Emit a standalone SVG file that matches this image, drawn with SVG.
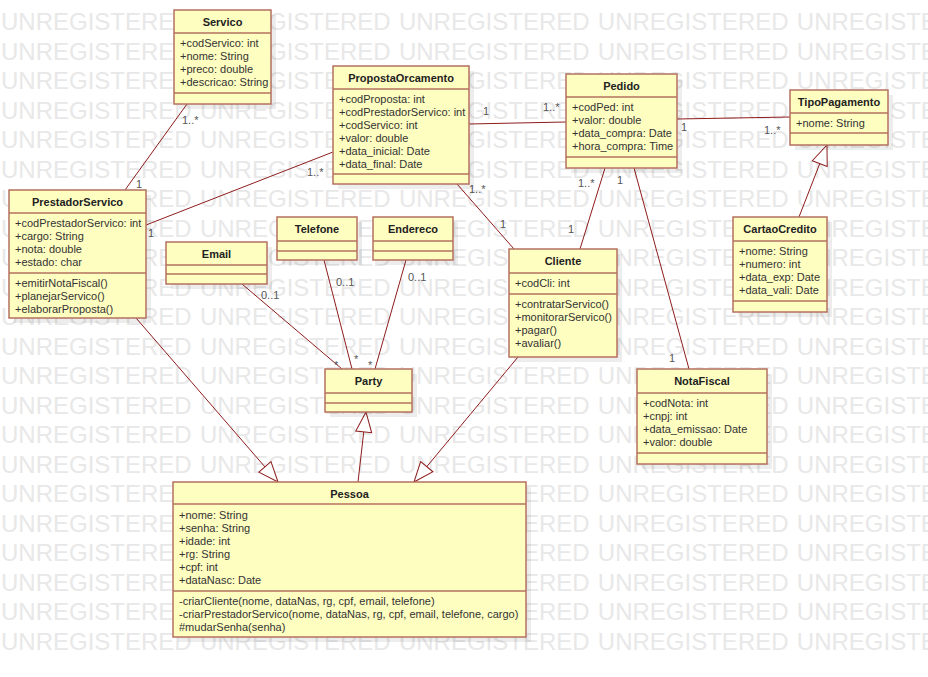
<svg xmlns="http://www.w3.org/2000/svg" width="928" height="677" viewBox="0 0 928 677">
<style>
.wm{font-family:"Liberation Sans",Arial,sans-serif;font-size:24px;fill:#e8e8e8;word-spacing:1.6px}
.sh{fill:#000;opacity:.07}
.box{fill:#fffec1;stroke:#b5705f;stroke-width:1.5}
.dv{stroke:#b5705f;stroke-width:1.5}
.t{font-family:"Liberation Sans",Arial,sans-serif;font-size:11px;font-weight:bold;fill:#222;text-anchor:middle}
.a{font-family:"Liberation Sans",Arial,sans-serif;font-size:11px;fill:#333}
.m{font-family:"Liberation Sans",Arial,sans-serif;font-size:11px;fill:#555}
.c{stroke:#8e1c1c;stroke-width:1;fill:none}
.g{stroke:#8e1c1c;stroke-width:1;fill:none;marker-end:url(#gen)}
</style>
<defs>
<marker id="gen" markerWidth="24" markerHeight="20" viewBox="-22 -10 24 20" refX="0" refY="0" orient="auto" markerUnits="userSpaceOnUse">
<path d="M0,0 L-20,-8 L-20,8 Z" fill="#fff" stroke="#8e1c1c" stroke-width="1"/>
</marker>
</defs>
<rect width="928" height="677" fill="#fff"/>
<g id="watermark">
<text class="wm" x="1" y="30">UNREGISTERED UNREGISTERED UNREGISTERED UNREGISTERED UNREGISTE</text>
<text class="wm" x="1" y="59.5">UNREGISTERED UNREGISTERED UNREGISTERED UNREGISTERED UNREGISTE</text>
<text class="wm" x="1" y="89">UNREGISTERED UNREGISTERED UNREGISTERED UNREGISTERED UNREGISTE</text>
<text class="wm" x="1" y="118.5">UNREGISTERED UNREGISTERED UNREGISTERED UNREGISTERED UNREGISTE</text>
<text class="wm" x="1" y="148">UNREGISTERED UNREGISTERED UNREGISTERED UNREGISTERED UNREGISTE</text>
<text class="wm" x="1" y="177.5">UNREGISTERED UNREGISTERED UNREGISTERED UNREGISTERED UNREGISTE</text>
<text class="wm" x="1" y="207">UNREGISTERED UNREGISTERED UNREGISTERED UNREGISTERED UNREGISTE</text>
<text class="wm" x="1" y="236.5">UNREGISTERED UNREGISTERED UNREGISTERED UNREGISTERED UNREGISTE</text>
<text class="wm" x="1" y="266">UNREGISTERED UNREGISTERED UNREGISTERED UNREGISTERED UNREGISTE</text>
<text class="wm" x="1" y="295.5">UNREGISTERED UNREGISTERED UNREGISTERED UNREGISTERED UNREGISTE</text>
<text class="wm" x="1" y="325">UNREGISTERED UNREGISTERED UNREGISTERED UNREGISTERED UNREGISTE</text>
<text class="wm" x="1" y="354.5">UNREGISTERED UNREGISTERED UNREGISTERED UNREGISTERED UNREGISTE</text>
<text class="wm" x="1" y="384">UNREGISTERED UNREGISTERED UNREGISTERED UNREGISTERED UNREGISTE</text>
<text class="wm" x="1" y="413.5">UNREGISTERED UNREGISTERED UNREGISTERED UNREGISTERED UNREGISTE</text>
<text class="wm" x="1" y="443">UNREGISTERED UNREGISTERED UNREGISTERED UNREGISTERED UNREGISTE</text>
<text class="wm" x="1" y="472.5">UNREGISTERED UNREGISTERED UNREGISTERED UNREGISTERED UNREGISTE</text>
<text class="wm" x="1" y="502">UNREGISTERED UNREGISTERED UNREGISTERED UNREGISTERED UNREGISTE</text>
<text class="wm" x="1" y="531.5">UNREGISTERED UNREGISTERED UNREGISTERED UNREGISTERED UNREGISTE</text>
<text class="wm" x="1" y="561">UNREGISTERED UNREGISTERED UNREGISTERED UNREGISTERED UNREGISTE</text>
<text class="wm" x="1" y="590.5">UNREGISTERED UNREGISTERED UNREGISTERED UNREGISTERED UNREGISTE</text>
<text class="wm" x="1" y="620">UNREGISTERED UNREGISTERED UNREGISTERED UNREGISTERED UNREGISTE</text>
<text class="wm" x="1" y="649.5">UNREGISTERED UNREGISTERED UNREGISTERED UNREGISTERED UNREGISTE</text>
</g>
<g id="connectors">
<line class="c" x1="187" y1="104" x2="125" y2="190"/>
<text class="m" x="182" y="124">1..*</text>
<text class="m" x="136" y="188">1</text>
<line class="c" x1="333" y1="152" x2="146" y2="225"/>
<text class="m" x="307" y="176">1..*</text>
<text class="m" x="148" y="237">1</text>
<line class="c" x1="469" y1="124" x2="566" y2="122"/>
<text class="m" x="483" y="115">1</text>
<text class="m" x="543" y="111">1..*</text>
<line class="c" x1="677" y1="119" x2="790" y2="117"/>
<text class="m" x="681" y="131">1</text>
<text class="m" x="764" y="134">1..*</text>
<line class="c" x1="457" y1="184" x2="514" y2="249"/>
<text class="m" x="469" y="193">1..*</text>
<text class="m" x="500" y="228">1</text>
<line class="c" x1="605" y1="168" x2="580" y2="249"/>
<text class="m" x="578" y="187">1..*</text>
<text class="m" x="568" y="233">1</text>
<line class="c" x1="634" y1="168" x2="689" y2="369"/>
<text class="m" x="617" y="184">1</text>
<text class="m" x="669" y="362">1</text>
<line class="c" x1="242" y1="284" x2="342" y2="369"/>
<text class="m" x="261" y="299">0..1</text>
<text class="m" x="334" y="369">*</text>
<line class="c" x1="324" y1="260" x2="352" y2="369"/>
<text class="m" x="336" y="286">0..1</text>
<text class="m" x="354" y="363">*</text>
<line class="c" x1="406" y1="260" x2="375" y2="369"/>
<text class="m" x="408" y="281">0..1</text>
<text class="m" x="368" y="369">*</text>
<line class="g" x1="799" y1="217" x2="827" y2="145"/>
<line class="g" x1="136" y1="318" x2="278" y2="482"/>
<line class="g" x1="358" y1="482" x2="366" y2="412"/>
<line class="g" x1="518" y1="357" x2="414" y2="482"/>
</g>
<g id="Servico">
<rect class="sh" x="179" y="15" width="97" height="94"/>
<rect class="box" x="174" y="10" width="97" height="94"/>
<line class="dv" x1="174" y1="33" x2="271" y2="33"/>
<line class="dv" x1="174" y1="93" x2="271" y2="93"/>
<text class="t" x="222.5" y="26">Servico</text>
<text class="a" x="180" y="47">+codServico: int</text>
<text class="a" x="180" y="60">+nome: String</text>
<text class="a" x="180" y="73">+preco: double</text>
<text class="a" x="180" y="86">+descricao: String</text>
</g>
<g id="PropostaOrcamento">
<rect class="sh" x="338" y="71" width="136" height="118"/>
<rect class="box" x="333" y="66" width="136" height="118"/>
<line class="dv" x1="333" y1="89" x2="469" y2="89"/>
<line class="dv" x1="333" y1="174" x2="469" y2="174"/>
<text class="t" x="401" y="82">PropostaOrcamento</text>
<text class="a" x="339" y="103">+codProposta: int</text>
<text class="a" x="339" y="116">+codPrestadorServico: int</text>
<text class="a" x="339" y="129">+codServico: int</text>
<text class="a" x="339" y="142">+valor: double</text>
<text class="a" x="339" y="155">+data_inicial: Date</text>
<text class="a" x="339" y="168">+data_final: Date</text>
</g>
<g id="Pedido">
<rect class="sh" x="571" y="79" width="111" height="94"/>
<rect class="box" x="566" y="74" width="111" height="94"/>
<line class="dv" x1="566" y1="97" x2="677" y2="97"/>
<line class="dv" x1="566" y1="157" x2="677" y2="157"/>
<text class="t" x="621.5" y="90">Pedido</text>
<text class="a" x="572" y="111">+codPed: int</text>
<text class="a" x="572" y="124">+valor: double</text>
<text class="a" x="572" y="137">+data_compra: Date</text>
<text class="a" x="572" y="150">+hora_compra: Time</text>
</g>
<g id="TipoPagamento">
<rect class="sh" x="795" y="95" width="98" height="55"/>
<rect class="box" x="790" y="90" width="98" height="55"/>
<line class="dv" x1="790" y1="113" x2="888" y2="113"/>
<line class="dv" x1="790" y1="133" x2="888" y2="133"/>
<text class="t" x="839" y="106">TipoPagamento</text>
<text class="a" x="796" y="127">+nome: String</text>
</g>
<g id="PrestadorServico">
<rect class="sh" x="14" y="195" width="137" height="128"/>
<rect class="box" x="9" y="190" width="137" height="128"/>
<line class="dv" x1="9" y1="213" x2="146" y2="213"/>
<line class="dv" x1="9" y1="273" x2="146" y2="273"/>
<text class="t" x="77.5" y="206">PrestadorServico</text>
<text class="a" x="15" y="227">+codPrestadorServico: int</text>
<text class="a" x="15" y="240">+cargo: String</text>
<text class="a" x="15" y="253">+nota: double</text>
<text class="a" x="15" y="266">+estado: char</text>
<text class="a" x="15" y="287">+emitirNotaFiscal()</text>
<text class="a" x="15" y="300">+planejarServico()</text>
<text class="a" x="15" y="313">+elaborarProposta()</text>
</g>
<g id="Email">
<rect class="sh" x="171" y="247" width="101" height="42"/>
<rect class="box" x="166" y="242" width="101" height="42"/>
<line class="dv" x1="166" y1="265" x2="267" y2="265"/>
<line class="dv" x1="166" y1="274" x2="267" y2="274"/>
<text class="t" x="216.5" y="258">Email</text>
</g>
<g id="Telefone">
<rect class="sh" x="282" y="222" width="80" height="43"/>
<rect class="box" x="277" y="217" width="80" height="43"/>
<line class="dv" x1="277" y1="241" x2="357" y2="241"/>
<line class="dv" x1="277" y1="251" x2="357" y2="251"/>
<text class="t" x="317" y="233">Telefone</text>
</g>
<g id="Endereco">
<rect class="sh" x="378" y="222" width="80" height="43"/>
<rect class="box" x="373" y="217" width="80" height="43"/>
<line class="dv" x1="373" y1="241" x2="453" y2="241"/>
<line class="dv" x1="373" y1="251" x2="453" y2="251"/>
<text class="t" x="413" y="233">Endereco</text>
</g>
<g id="Cliente">
<rect class="sh" x="514" y="254" width="108" height="108"/>
<rect class="box" x="509" y="249" width="108" height="108"/>
<line class="dv" x1="509" y1="273" x2="617" y2="273"/>
<line class="dv" x1="509" y1="294" x2="617" y2="294"/>
<text class="t" x="563" y="265">Cliente</text>
<text class="a" x="515" y="287">+codCli: int</text>
<text class="a" x="515" y="308">+contratarServico()</text>
<text class="a" x="515" y="321">+monitorarServico()</text>
<text class="a" x="515" y="334">+pagar()</text>
<text class="a" x="515" y="347">+avaliar()</text>
</g>
<g id="Party">
<rect class="sh" x="330" y="374" width="87" height="43"/>
<rect class="box" x="325" y="369" width="87" height="43"/>
<line class="dv" x1="325" y1="393" x2="412" y2="393"/>
<line class="dv" x1="325" y1="403" x2="412" y2="403"/>
<text class="t" x="368.5" y="385">Party</text>
</g>
<g id="CartaoCredito">
<rect class="sh" x="738" y="222" width="94" height="95"/>
<rect class="box" x="733" y="217" width="94" height="95"/>
<line class="dv" x1="733" y1="241" x2="827" y2="241"/>
<line class="dv" x1="733" y1="301" x2="827" y2="301"/>
<text class="t" x="780" y="233">CartaoCredito</text>
<text class="a" x="739" y="255">+nome: String</text>
<text class="a" x="739" y="268">+numero: int</text>
<text class="a" x="739" y="281">+data_exp: Date</text>
<text class="a" x="739" y="294">+data_vali: Date</text>
</g>
<g id="NotaFiscal">
<rect class="sh" x="642" y="374" width="130" height="95"/>
<rect class="box" x="637" y="369" width="130" height="95"/>
<line class="dv" x1="637" y1="393" x2="767" y2="393"/>
<line class="dv" x1="637" y1="453" x2="767" y2="453"/>
<text class="t" x="702" y="385">NotaFiscal</text>
<text class="a" x="643" y="407">+codNota: int</text>
<text class="a" x="643" y="420">+cnpj: int</text>
<text class="a" x="643" y="433">+data_emissao: Date</text>
<text class="a" x="643" y="446">+valor: double</text>
</g>
<g id="Pessoa">
<rect class="sh" x="178" y="487" width="353" height="155"/>
<rect class="box" x="173" y="482" width="353" height="155"/>
<line class="dv" x1="173" y1="504" x2="526" y2="504"/>
<line class="dv" x1="173" y1="591" x2="526" y2="591"/>
<text class="t" x="349.5" y="498">Pessoa</text>
<text class="a" x="179" y="519">+nome: String</text>
<text class="a" x="179" y="532">+senha: String</text>
<text class="a" x="179" y="545">+idade: int</text>
<text class="a" x="179" y="558">+rg: String</text>
<text class="a" x="179" y="571">+cpf: int</text>
<text class="a" x="179" y="584">+dataNasc: Date</text>
<text class="a" x="179" y="605">-criarCliente(nome, dataNas, rg, cpf, email, telefone)</text>
<text class="a" x="179" y="618">-criarPrestadorServico(nome, dataNas, rg, cpf, email, telefone, cargo)</text>
<text class="a" x="179" y="631">#mudarSenha(senha)</text>
</g>
</svg>
